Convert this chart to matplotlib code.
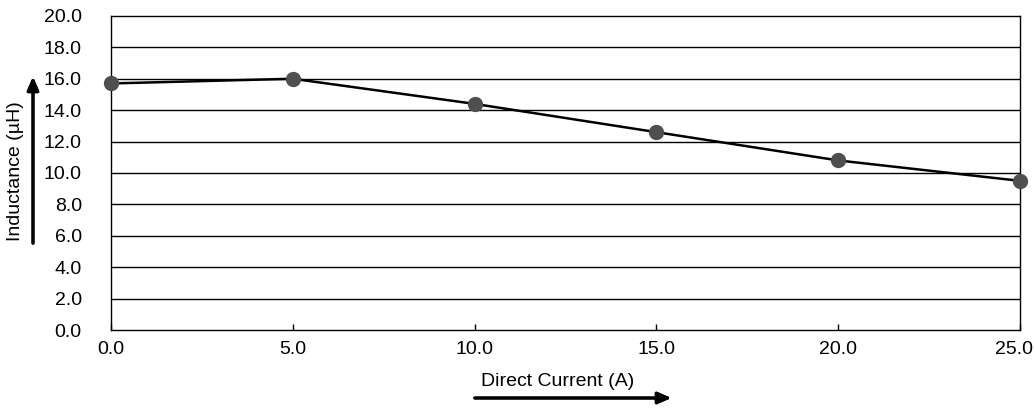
import numpy as np
import matplotlib.pyplot as plt
import matplotlib.transforms as mtransforms

# Datos
current = [0.0, 5.0, 10.0, 15.0, 20.0, 25.0]
inductance = [15.7, 16.0, 14.4, 12.6, 10.8, 9.5]
x_ticks = [0.0, 5.0, 10.0, 15.0, 20.0, 25.0]
y_ticks = [0.0, 2.0, 4.0, 6.0, 8.0, 10.0, 12.0, 14.0, 16.0, 18.0, 20.0]

plt.rcParams['font.family'] = ['Liberation Sans', 'DejaVu Sans']

fig = plt.figure(figsize=(10.35, 4.08), dpi=100)
ax = fig.add_axes([0.1072, 0.191, 0.8783, 0.770])

# Líneas horizontales de la cuadrícula
for yv in y_ticks[1:-1]:
    ax.axhline(yv, color='black', linewidth=1.0, zorder=1)

ax.plot(current, inductance, color='black', linewidth=1.8, zorder=2)
ax.plot(current, inductance, linestyle='none', marker='o', markersize=10,
        color='#4f4f4f', clip_on=False, zorder=3)

ax.set_xlim(0, 25)
ax.set_ylim(0, 20)
ax.set_xticks(x_ticks)
ax.set_xticklabels([f"{v:.1f}" for v in x_ticks])
ax.set_yticks(y_ticks)
ax.set_yticklabels([f"{v:.1f}" for v in y_ticks])
ax.tick_params(axis='x', direction='in', length=4, width=1, pad=8, labelsize=14)
ax.tick_params(axis='y', length=0, pad=21, labelsize=14)
for s in ax.spines.values():
    s.set_linewidth(1.0)
    s.set_color('black')

# la última etiqueta se corre un poco a la izquierda para que quepa
last = ax.get_xticklabels()[-1]
last.set_transform(last.get_transform() + mtransforms.ScaledTranslation(-6 / 100, 0, fig.dpi_scale_trans))

# Etiquetas de los ejes con flechas
fig.text(16 / 1035, 1 - 171 / 408, 'Inductance (\u00b5H)', rotation=90,
         ha='center', va='center', fontsize=14)
fig.text(558 / 1035, 1 - 381 / 408, 'Direct Current (A)',
         ha='center', va='center', fontsize=14)
fig.add_artist(plt.annotate('', xy=(33 / 1035, 1 - 74 / 408), xycoords='figure fraction',
                            xytext=(33 / 1035, 1 - 246 / 408),
                            arrowprops=dict(arrowstyle='-|>,head_length=0.8,head_width=0.35',
                                            color='black', linewidth=2.2)))
fig.add_artist(plt.annotate('', xy=(674 / 1035, 1 - 398 / 408), xycoords='figure fraction',
                            xytext=(472 / 1035, 1 - 398 / 408),
                            arrowprops=dict(arrowstyle='-|>,head_length=0.8,head_width=0.35',
                                            color='black', linewidth=2.2)))

fig.savefig('out.png', dpi=100)
